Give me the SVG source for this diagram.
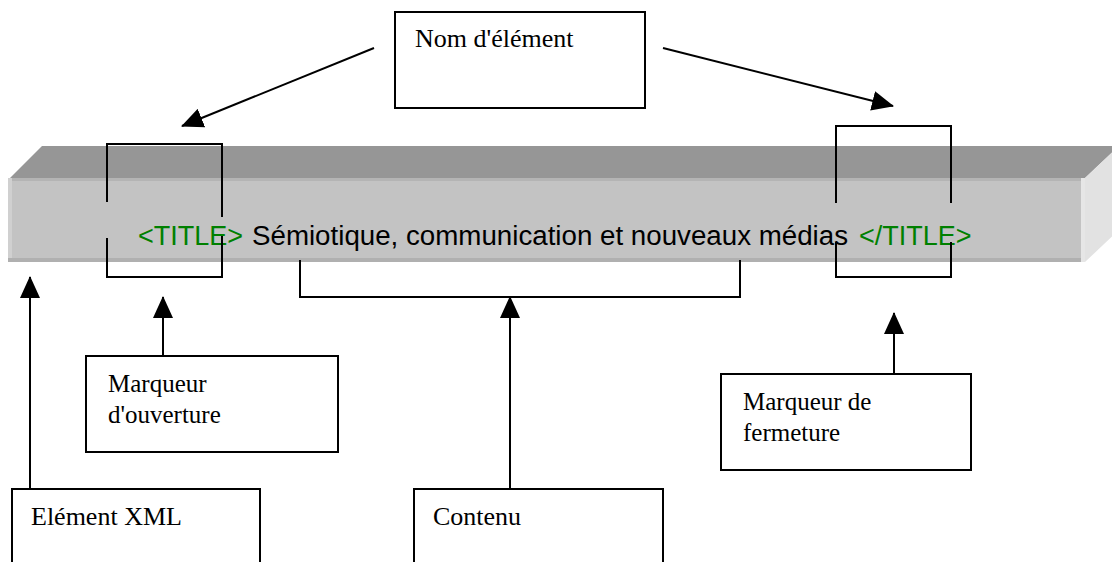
<svg xmlns="http://www.w3.org/2000/svg" width="1112" height="562" viewBox="0 0 1112 562">
  <style>
    .box { fill: #ffffff; stroke: #000000; stroke-width: 2; }
    .lbl { font-family: "Liberation Serif", "Times New Roman", serif; font-size: 25px; fill: #000000; }
    .lbl-lg { font-size: 26px; }
    .bar-text { font-family: "Liberation Sans", Arial, sans-serif; font-size: 27px; }
    .tag { fill: #008000; }
    .plain { fill: #000000; }
    .bracket { fill: none; stroke: #000000; stroke-width: 2; }
    .arrow { fill: none; stroke: #000000; stroke-width: 2; marker-end: url(#head); }
  </style>
  <defs>
    <marker id="head" markerUnits="userSpaceOnUse" markerWidth="22" markerHeight="20" refX="21" refY="10" orient="auto" viewBox="0 0 22 20">
      <path d="M0,0 L22,10 L0,20 z" fill="#000000"/>
    </marker>
  </defs>

  <rect width="1112" height="562" fill="#ffffff"/>

  <!-- 3D bar holding the element -->
  <g id="bar">
    <polygon points="10,178 42,146 1119,146 1085,178" fill="#969696"/>
    <polygon points="1085,178 1119,146 1119,230 1085,262" fill="#e2e2e2"/>
    <rect x="8" y="178" width="1077" height="84" fill="#c3c3c3"/>
    <rect x="8" y="178" width="1077" height="3" fill="#b4b4b4"/>
    <rect x="8" y="178" width="4" height="84" fill="#d0d0d0"/>
    <rect x="8" y="258" width="1077" height="4" fill="#b0b0b0"/>
    <rect x="1081" y="178" width="4" height="84" fill="#e6e6e6"/>
    <text class="bar-text tag" x="138" y="245">&lt;TITLE&gt;</text>
    <text class="bar-text plain" x="252" y="245" textLength="596" lengthAdjust="spacingAndGlyphs">Sémiotique, communication et nouveaux médias</text>
    <text class="bar-text tag" x="859" y="245">&lt;/TITLE&gt;</text>
  </g>

  <!-- brackets marking the parts of the element -->
  <g id="brackets">
    <path class="bracket" d="M107,202 V144 H222 V217"/>
    <path class="bracket" d="M107,238 V277 H222 V236"/>
    <path class="bracket" d="M836,203 V126 H951 V203"/>
    <path class="bracket" d="M836,242 V277 H951 V242"/>
    <path class="bracket" d="M300,260 V297 H740 V260"/>
  </g>

  <g id="nom-element">
    <rect class="box" x="395" y="12" width="250" height="96"/>
    <text class="lbl lbl-lg" x="415" y="47">Nom d'élément</text>
  </g>

  <g id="marqueur-ouverture">
    <rect class="box" x="86" y="356" width="252" height="96"/>
    <text class="lbl" x="108" y="392">Marqueur</text>
    <text class="lbl" x="108" y="423">d'ouverture</text>
  </g>

  <g id="marqueur-fermeture">
    <rect class="box" x="721" y="374" width="250" height="96"/>
    <text class="lbl" x="743" y="410">Marqueur de</text>
    <text class="lbl" x="743" y="441">fermeture</text>
  </g>

  <g id="element-xml">
    <rect class="box" x="12" y="489" width="248" height="90"/>
    <text class="lbl lbl-lg" x="31" y="525">Elément XML</text>
  </g>

  <g id="contenu">
    <rect class="box" x="414" y="489" width="249" height="90"/>
    <text class="lbl lbl-lg" x="433" y="525">Contenu</text>
  </g>

  <g id="connectors">
    <line class="arrow" x1="374" y1="48" x2="182" y2="126"/>
    <line class="arrow" x1="663" y1="48" x2="893" y2="106"/>
    <line class="arrow" x1="30" y1="489" x2="30" y2="277"/>
    <line class="arrow" x1="163" y1="356" x2="163" y2="297"/>
    <line class="arrow" x1="510" y1="489" x2="510" y2="297"/>
    <line class="arrow" x1="894" y1="374" x2="894" y2="313"/>
  </g>
</svg>
